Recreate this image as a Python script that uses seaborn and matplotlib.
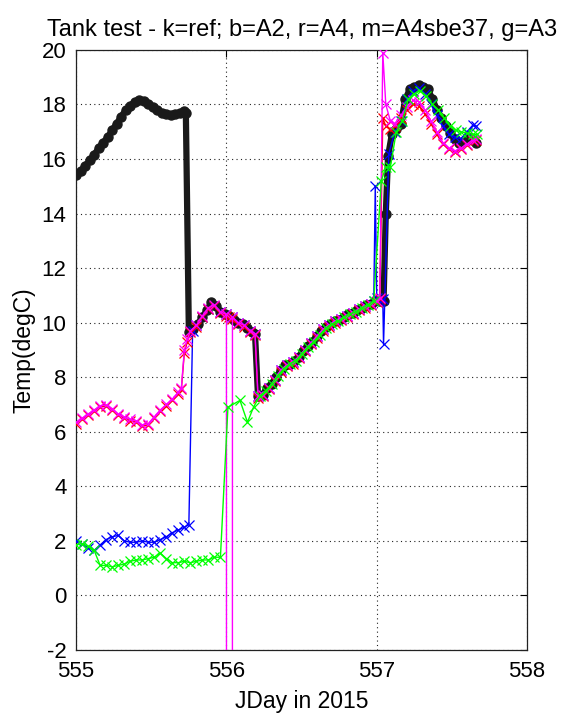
import matplotlib
matplotlib.use("Agg")
import matplotlib.pyplot as plt
import seaborn as sns

# Reference thermometer (k)
ref_t = [555.00, 555.03, 555.06, 555.09, 555.12, 555.15, 555.18, 555.21, 555.24, 555.27,
         555.30, 555.33, 555.36, 555.39, 555.42, 555.45, 555.48, 555.51, 555.54, 555.57,
         555.60, 555.63, 555.66, 555.69, 555.72, 555.73, 555.75, 555.78, 555.81, 555.84,
         555.87, 555.90, 555.93, 555.96, 555.99, 556.02, 556.05, 556.08, 556.11, 556.14,
         556.17, 556.19, 556.21, 556.24, 556.27, 556.30, 556.33, 556.36, 556.39, 556.42,
         556.45, 556.48, 556.51, 556.54, 556.57, 556.60, 556.63, 556.66, 556.69, 556.72,
         556.75, 556.78, 556.81, 556.84, 556.87, 556.90, 556.93, 556.96, 556.99, 557.02,
         557.045, 557.06, 557.075, 557.10, 557.13, 557.16, 557.19, 557.22, 557.25, 557.28,
         557.31, 557.34, 557.37, 557.40, 557.43, 557.46, 557.49, 557.52, 557.55, 557.58,
         557.61, 557.64, 557.66]
ref_v = [15.40, 15.55, 15.75, 15.95, 16.15, 16.40, 16.60, 16.80, 17.05, 17.30,
         17.55, 17.80, 17.95, 18.10, 18.15, 18.12, 18.00, 17.90, 17.78, 17.70,
         17.65, 17.62, 17.65, 17.70, 17.75, 17.70, 9.65, 9.75, 9.95, 10.20,
         10.45, 10.75, 10.60, 10.40, 10.30, 10.25, 10.10, 10.00, 9.95, 9.80,
         9.65, 9.60, 7.30, 7.35, 7.60, 7.75, 8.00, 8.25, 8.45, 8.50,
         8.60, 8.75, 8.95, 9.15, 9.30, 9.50, 9.70, 9.85, 9.95, 10.05,
         10.10, 10.20, 10.30, 10.35, 10.45, 10.55, 10.65, 10.70, 10.80, 10.80,
         10.80, 14.00, 16.10, 16.90, 17.10, 17.30, 18.20, 18.55, 18.65, 18.70,
         18.65, 18.55, 18.20, 17.80, 17.50, 17.20, 16.95, 16.75, 16.60, 16.65,
         16.80, 16.70, 16.60]

# A2 (b)
a2_t = [555.00, 555.04, 555.08, 555.12, 555.16, 555.20, 555.24, 555.28, 555.32, 555.36,
        555.40, 555.44, 555.48, 555.52, 555.56, 555.60, 555.64, 555.68, 555.72, 555.75,
        555.775, 555.80, 555.84, 555.88, 555.92, 555.96, 556.00, 556.04, 556.08, 556.12,
        556.16, 556.19, 556.21, 556.24, 556.28, 556.32, 556.36, 556.40, 556.44, 556.48,
        556.52, 556.56, 556.60, 556.64, 556.68, 556.72, 556.76, 556.80, 556.84, 556.88,
        556.92, 556.96, 556.98, 556.99, 557.00, 557.04, 557.045, 557.08, 557.12, 557.16,
        557.20, 557.24, 557.28, 557.32, 557.36, 557.40, 557.44, 557.48, 557.52, 557.56,
        557.60, 557.64, 557.66]
a2_v = [2.00, 1.90, 1.75, 1.65, 1.85, 2.05, 2.15, 2.20, 2.00, 1.95,
        1.95, 2.00, 1.95, 1.95, 2.05, 2.15, 2.30, 2.40, 2.50, 2.60,
        9.70, 9.90, 10.20, 10.50, 10.60, 10.40, 10.30, 10.20, 10.00, 9.90,
        9.70, 9.60, 7.30, 7.35, 7.60, 7.90, 8.25, 8.45, 8.55, 8.75,
        9.00, 9.25, 9.50, 9.75, 9.90, 10.05, 10.15, 10.25, 10.35, 10.50,
        10.60, 10.70, 10.80, 15.00, 10.90, 10.85, 9.20, 16.20, 17.00, 17.40,
        18.20, 18.50, 18.60, 18.40, 18.00, 17.60, 17.20, 16.90, 16.80, 16.75,
        17.00, 17.25, 17.20]

# A4 (r) and A4 sbe37 (m) share sampling times
a4_t = [555.00, 555.04, 555.08, 555.12, 555.16, 555.20, 555.24, 555.28, 555.32, 555.36,
        555.40, 555.44, 555.48, 555.52, 555.56, 555.60, 555.64, 555.68, 555.70, 555.72,
        555.74, 555.76, 555.80, 555.84, 555.88, 555.92, 555.96, 556.00, 556.02, 556.04,
        556.08, 556.12, 556.16, 556.19, 556.21, 556.24, 556.28, 556.32, 556.36, 556.40,
        556.44, 556.48, 556.52, 556.56, 556.60, 556.64, 556.68, 556.72, 556.76, 556.80,
        556.84, 556.88, 556.92, 556.96, 557.00, 557.02, 557.04, 557.06, 557.09, 557.12,
        557.16, 557.20, 557.24, 557.28, 557.32, 557.36, 557.40, 557.44, 557.48, 557.52,
        557.56, 557.60, 557.64, 557.66]
a4_v = [6.30, 6.45, 6.60, 6.75, 6.90, 6.95, 6.80, 6.60, 6.50, 6.40,
        6.35, 6.20, 6.25, 6.50, 6.75, 6.95, 7.15, 7.40, 7.55, 8.90,
        9.30, 9.65, 9.85, 10.20, 10.50, 10.60, 10.35, 10.25, 10.20, 10.15,
        9.95, 9.85, 9.65, 9.55, 7.25, 7.30, 7.55, 7.85, 8.20, 8.40,
        8.50, 8.70, 8.95, 9.20, 9.45, 9.70, 9.85, 10.00, 10.10, 10.20,
        10.30, 10.45, 10.55, 10.65, 10.75, 10.85, 17.50, 17.20, 17.10, 17.20,
        17.50, 17.80, 18.00, 17.95, 17.65, 17.30, 16.90, 16.55, 16.35, 16.25,
        16.35, 16.50, 16.65, 16.70]
sbe_v = [6.35, 6.50, 6.65, 6.80, 6.95, 6.98, 6.85, 6.65, 6.55, 6.45,
         6.40, 6.25, 6.30, 6.55, 6.80, 7.00, 7.20, 7.45, 7.60, 9.00,
         9.40, 9.70, 9.90, 10.25, 10.55, 10.65, 10.40, 10.30, -999.0, 10.20,
         10.00, 9.90, 9.70, 9.60, 7.30, 7.35, 7.60, 7.90, 8.25, 8.45,
         8.55, 8.75, 9.00, 9.25, 9.50, 9.75, 9.90, 10.05, 10.15, 10.25,
         10.35, 10.50, 10.60, 10.70, 10.80, 10.90, 19.90, 18.00, 17.40, 17.30,
         17.60, 17.90, 18.15, 18.10, 17.80, 17.40, 17.00, 16.60, 16.40, 16.30,
         16.40, 16.55, 16.70, 16.75]

# A3 (g)
a3_t = [555.00, 555.04, 555.08, 555.12, 555.16, 555.20, 555.24, 555.28, 555.32, 555.36,
        555.40, 555.44, 555.48, 555.52, 555.56, 555.60, 555.64, 555.68, 555.72, 555.76,
        555.80, 555.84, 555.88, 555.92, 555.96, 556.01, 556.09, 556.14, 556.18, 556.22,
        556.26, 556.30, 556.34, 556.38, 556.42, 556.46, 556.50, 556.54, 556.58, 556.62,
        556.66, 556.70, 556.74, 556.78, 556.82, 556.86, 556.90, 556.94, 556.98, 557.03,
        557.06, 557.09, 557.13, 557.17, 557.21, 557.25, 557.29, 557.33, 557.37, 557.41,
        557.45, 557.49, 557.53, 557.56, 557.60, 557.64, 557.67]
a3_v = [1.85, 1.90, 1.80, 1.65, 1.10, 1.10, 1.05, 1.10, 1.15, 1.25,
        1.30, 1.30, 1.35, 1.40, 1.55, 1.35, 1.20, 1.20, 1.25, 1.20,
        1.25, 1.30, 1.30, 1.40, 1.40, 6.90, 7.15, 6.35, 6.90, 7.30,
        7.50, 7.75, 8.05, 8.30, 8.50, 8.60, 8.85, 9.10, 9.30, 9.55,
        9.80, 9.95, 10.05, 10.20, 10.30, 10.40, 10.55, 10.65, 10.80, 15.20,
        15.70, 15.70, 17.00, 17.40, 18.20, 18.40, 18.50, 18.30, 18.00, 17.80,
        17.50, 17.20, 17.05, 17.00, 16.95, 16.90, 16.90]

x_ticks = [555, 556, 557, 558]
y_ticks = [-2, 0, 2, 4, 6, 8, 10, 12, 14, 16, 18, 20]

sns.set_theme(style="white")
plt.rcParams["font.family"] = ["Liberation Sans", "DejaVu Sans"]
plt.rcParams["text.color"] = "black"
plt.rcParams["axes.labelcolor"] = "black"

fig = plt.figure(figsize=(5.68, 7.13), dpi=100)
ax = fig.add_axes([0.134, 0.0884, 0.794, 0.8416])

sns.lineplot(x=ref_t, y=ref_v, color="k", lw=4.5, marker="o", markersize=6.5,
             markeredgecolor="k", markerfacecolor="k", markeredgewidth=1,
             sort=False, estimator=None, ax=ax, zorder=3)

xkw = dict(lw=1.0, marker="x", markersize=7, markeredgewidth=0.9,
           sort=False, estimator=None, ax=ax, zorder=4)
sns.lineplot(x=a2_t, y=a2_v, color="#0000ff", markeredgecolor="#0000ff", **xkw)
sns.lineplot(x=a4_t, y=a4_v, color="#ff0000", markeredgecolor="#ff0000", **xkw)
sns.lineplot(x=a4_t, y=sbe_v, color="#ff00ff", markeredgecolor="#ff00ff", **xkw)
sns.lineplot(x=a3_t, y=a3_v, color="#00ff00", markeredgecolor="#00ff00", **xkw)

ax.set_xlim(555, 558)
ax.set_ylim(-2, 20)
ax.set_xticks(x_ticks)
ax.set_yticks(y_ticks)
ax.set_xticklabels([str(v) for v in x_ticks])
ax.set_yticklabels([str(v) for v in y_ticks])

ax.grid(True, color="#222222", linestyle=(0, (1, 3)), linewidth=0.8)
ax.set_axisbelow(True)
for s in ax.spines.values():
    s.set_color("#222222")
    s.set_linewidth(0.9)
    s.set_visible(True)
ax.tick_params(direction="in", length=5, width=0.8, top=True, right=True,
               labelsize=16, colors="black", pad=7)
ax.tick_params(axis="x", pad=8)

ax.set_title("Tank test - k=ref; b=A2, r=A4, m=A4sbe37, g=A3", fontsize=17,
             color="black", pad=10)
ax.set_xlabel("JDay in 2015", fontsize=16.5, color="black", labelpad=6)
ax.set_ylabel("Temp(degC)", fontsize=16.5, color="black", labelpad=4)

fig.savefig("out.png", dpi=100, facecolor="white")
